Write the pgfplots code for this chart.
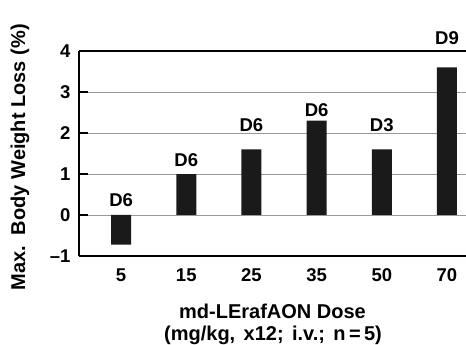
\documentclass[border=0pt]{standalone}
\usepackage{pgfplots}
\pgfplotsset{compat=1.18}
\usepackage{fontspec}
\setmainfont{Liberation Sans}[BoldFont={Liberation Sans Bold}]
\definecolor{barblack}{HTML}{1A1A1A}
\newcommand{\lf}{\fontsize{18.5}{22}\selectfont\bfseries}
\newcommand{\af}{\fontsize{20}{24}\selectfont\bfseries}
\begin{document}
\begin{tikzpicture}
\begin{axis}[
  at={(0,0)}, anchor=south west,
  scale only axis, width=387pt, height=205pt,
  xmin=-0.646, xmax=5.292, ymin=-1, ymax=4,
  axis x line=box, axis y line=left,
  axis line style={-, line width=1.6pt, black},
  xtick={0,1,2,3,4,5},
  xticklabels={5,15,25,35,50,70},
  ytick={-1,0,1,2,3,4},
  yticklabels={\textbf{\textendash 1},\textbf{0},\textbf{1},\textbf{2},\textbf{3},\textbf{4}},
  xtick style={draw=none},
  ytick style={line width=1.2pt, black},
  major tick length=9pt, tick align=inside,
  ymajorgrids, grid style={gray!80, line width=0.8pt},
  /pgf/number format/assume math mode=true,
  ticklabel style={font=\lf},
  xticklabel style={yshift=-9pt},
  yticklabel style={xshift=-5pt},
  clip=false,
]
\addplot[ybar, bar width=20pt, fill=barblack, draw=none] coordinates {
  (0,-0.72) (1,1.0) (2,1.6) (3,2.3) (4,1.6) (5,3.6)
};
\begin{scope}[every node/.style={font=\lf}]
\node at (axis cs:0,0.37) {D6};
\node at (axis cs:1,1.34) {D6};
\node at (axis cs:2,2.2) {D6};
\node at (axis cs:3,2.56) {D6};
\node at (axis cs:4,2.2) {D3};
\node at (axis cs:5,4.32) {D9};
\end{scope}
\end{axis}
\node[rotate=90, font=\af] at (-59pt,98.5pt) {Max.\ \ Body Weight Loss (\%)};
\node[font=\af] at (193.5pt,-55pt) {md-LErafAON Dose};
\node[font=\af] at (194pt,-79pt) {\spaceskip=0.42em (mg/kg, x12; i.v.; n\,=\,5)};
\pgfresetboundingbox
\path (-79pt,-89pt) rectangle (387pt,256pt);
\end{tikzpicture}
\end{document}
